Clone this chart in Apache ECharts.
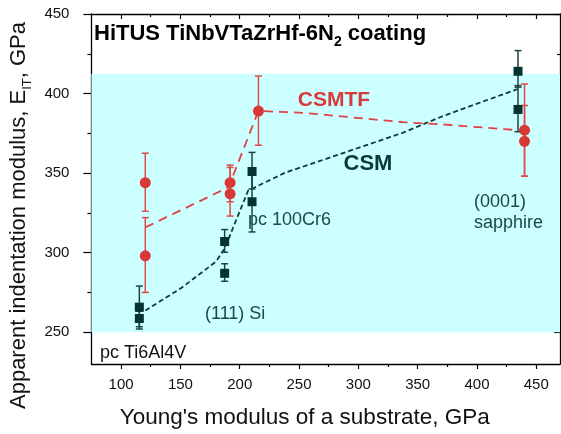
<!DOCTYPE html>
<html>
<head>
<meta charset="utf-8">
<script src="https://cdn.jsdelivr.net/npm/echarts@6/dist/echarts.min.js"></script>
<style>
  html, body { margin: 0; padding: 0; background: #fff; }
  #chart { width: 561px; height: 434px; }
</style>
</head>
<body>
<div id="chart"></div>
<script>
// axis ticks
var xMajor = [100, 150, 200, 250, 300, 350, 400, 450];
var xMinor = [125, 175, 225, 275, 325, 375, 425];
var yMajor = [250, 300, 350, 400, 450];
var yMinor = [275, 325, 375, 425];
// shaded band (GPa)
var bandRange = [250, 412.5];

// CSM: [substrate E, E_IT]
var csmPoints = [[115.4, 265.7], [115.4, 258.6], [187.3, 307], [187.3, 287],
  [210.4, 351], [210.4, 332], [434.6, 414], [434.6, 390]];
// [substrate E, low, high]
var csmErr = [[115.4, 252, 279], [115.4, 253.4, 263.2], [187.3, 300.2, 314.5], [187.3, 282, 293],
  [210.4, 340, 363], [210.4, 313, 351], [434.6, 404, 427], [434.6, 376, 405]];
var csmTrend = [[120.4, 263.6], [150.6, 277.7], [180.1, 294.4], [187.3, 302.6], [207.1, 339],
  [238.7, 350.4], [255.2, 354.5], [321.2, 371.2], [337.7, 375.4], [370.8, 385.7], [434.1, 402.8]];

// CSMTF
var csmtfPoints = [[120.4, 344], [120.4, 298], [191.9, 344], [191.9, 337],
  [215.8, 389], [440.1, 377], [440.1, 370]];
var csmtfErr = [[120.4, 326, 362.5], [120.4, 275, 322], [191.9, 332, 355], [191.9, 323, 353.5],
  [215.8, 367.5, 411], [440.1, 348, 406], [440.1, 348, 392.5]];
var csmtfTrend = [[120.4, 315.9], [190.6, 341.1], [215.8, 389.1], [255.2, 387.8],
  [337.7, 382], [370.8, 380.6], [434, 377]];

var FONT = 'Liberation Sans, Arial, sans-serif';
var RED = '#d93636';
var DARK = '#063232';

function errBar(color) {
  return function (params, api) {
    var x = api.value(0);
    var lo = api.coord([x, api.value(1)]);
    var hi = api.coord([x, api.value(2)]);
    var w = 3.5;
    var st = { stroke: color, lineWidth: 1.5 };
    return {
      type: 'group',
      children: [
        { type: 'line', shape: { x1: lo[0], y1: lo[1], x2: hi[0], y2: hi[1] }, style: st },
        { type: 'line', shape: { x1: lo[0] - w, y1: lo[1], x2: lo[0] + w, y2: lo[1] }, style: st },
        { type: 'line', shape: { x1: hi[0] - w, y1: hi[1], x2: hi[0] + w, y2: hi[1] }, style: st }
      ]
    };
  };
}

function xAx(pos, ticks, len, inside, extra) {
  var a = {
    type: 'value', min: 75, max: 470, position: pos,
    axisLine: { show: true, onZero: false, lineStyle: { color: '#000', width: 1.3 } },
    axisTick: { show: true, inside: inside, length: len, customValues: ticks, lineStyle: { color: '#000', width: 1.2 } },
    axisLabel: { show: false },
    splitLine: { show: false }
  };
  return Object.assign(a, extra || {});
}
function yAx(pos, ticks, len, inside, extra) {
  var a = {
    type: 'value', min: 230, max: 450, position: pos,
    axisLine: { show: true, onZero: false, lineStyle: { color: '#000', width: 1.3 } },
    axisTick: { show: true, inside: inside, length: len, customValues: ticks, lineStyle: { color: '#000', width: 1.2 } },
    axisLabel: { show: false },
    splitLine: { show: false }
  };
  return Object.assign(a, extra || {});
}

var chart = echarts.init(document.getElementById('chart'));
chart.setOption({
  animation: false,
  textStyle: { fontFamily: FONT },
  grid: { left: 82, right: 1, top: 14, bottom: 67 },
  xAxis: [
    xAx('bottom', xMajor, 5, false, {
      axisLabel: { show: true, customValues: xMajor, fontSize: 15, color: '#111', margin: 13, fontFamily: FONT },
      name: "Young's modulus of a substrate, GPa",
      nameLocation: 'middle', nameGap: 42,
      nameTextStyle: { fontSize: 22.5, color: '#111', fontFamily: FONT, padding: [0, 42, 0, 0] }
    }),
    xAx('bottom', xMinor, 3, false, { axisLine: { show: false } }),
    xAx('top', xMajor, 5, true),
    xAx('top', xMinor, 3, true, { axisLine: { show: false } })
  ],
  yAxis: [
    yAx('left', yMajor, 8, false, {
      axisLabel: { show: true, customValues: yMajor, fontSize: 15, color: '#111', margin: 22, fontFamily: FONT },
      name: 'Apparent indentation modulus, E{sub|IT}, GPa',
      nameLocation: 'middle', nameGap: 47,
      nameTextStyle: {
        fontSize: 22, color: '#111', fontFamily: FONT, padding: [0, 53, 0, 0],
        rich: { sub: { fontSize: 13, lineHeight: 29, verticalAlign: 'bottom', color: '#111', fontFamily: FONT } }
      }
    }),
    yAx('left', yMinor, 4, false, { axisLine: { show: false } }),
    yAx('right', yMajor, 6, true),
    yAx('right', yMinor, 3, true, { axisLine: { show: false } })
  ],
  series: [
    {
      name: 'band', type: 'line', data: [], z: 0,
      markArea: {
        silent: true,
        itemStyle: { color: '#ccffff' },
        data: [[{ xAxis: 75, yAxis: bandRange[0] }, { xAxis: 470, yAxis: bandRange[1] }]]
      }
    },
    {
      name: 'CSMTF fit', type: 'line', data: csmtfTrend, symbol: 'none', smooth: false,
      lineStyle: { color: '#e04242', width: 1.8, type: [9, 6] }, z: 2
    },
    {
      name: 'CSM fit', type: 'line', data: csmTrend, symbol: 'none', smooth: false,
      lineStyle: { color: '#0d3a3a', width: 1.8, type: [5, 3] }, z: 2
    },
    { name: 'CSMTF err', type: 'custom', data: csmtfErr, renderItem: errBar('#dd4a4a'), z: 3 },
    { name: 'CSM err', type: 'custom', data: csmErr, renderItem: errBar('#1c4444'), z: 3 },
    {
      name: 'CSMTF', type: 'scatter', data: csmtfPoints, symbol: 'circle', symbolSize: 11,
      itemStyle: { color: RED, opacity: 1 }, z: 4
    },
    {
      name: 'CSM', type: 'scatter', data: csmPoints, symbol: 'rect', symbolSize: 9,
      itemStyle: { color: DARK, opacity: 1 }, z: 4
    }
  ],
  graphic: [
    {
      type: 'text', left: 94, top: 23, z: 10,
      style: {
        text: 'HiTUS TiNbVTaZrHf-6N{sub|2} coating',
        font: 'bold 22px ' + FONT, fill: '#000',
        rich: { sub: { font: 'bold 14px ' + FONT, lineHeight: 31, verticalAlign: 'bottom', fill: '#000' } }
      }
    },
    { type: 'text', x: 334, y: 100, z: 10, style: { text: 'CSMTF', font: 'bold 21px ' + FONT, fill: '#d83a3a', align: 'center', verticalAlign: 'middle' } },
    { type: 'text', x: 368, y: 164, z: 10, style: { text: 'CSM', font: 'bold 22px ' + FONT, fill: '#0b3838', align: 'center', verticalAlign: 'middle' } },
    { type: 'text', x: 474, y: 213, z: 10, style: { text: '(0001)\nsapphire', font: '18px ' + FONT, lineHeight: 21, fill: '#1b4848', align: 'left', verticalAlign: 'middle' } },
    { type: 'text', x: 248, y: 220, z: 10, style: { text: 'pc 100Cr6', font: '18px ' + FONT, fill: '#1b4848', align: 'left', verticalAlign: 'middle' } },
    { type: 'text', x: 205, y: 314, z: 10, style: { text: '(111) Si', font: '18px ' + FONT, fill: '#1b4848', align: 'left', verticalAlign: 'middle' } },
    { type: 'text', x: 100, y: 353, z: 10, style: { text: 'pc Ti6Al4V', font: '18px ' + FONT, fill: '#111', align: 'left', verticalAlign: 'middle' } }
  ]
});
</script>
</body>
</html>
